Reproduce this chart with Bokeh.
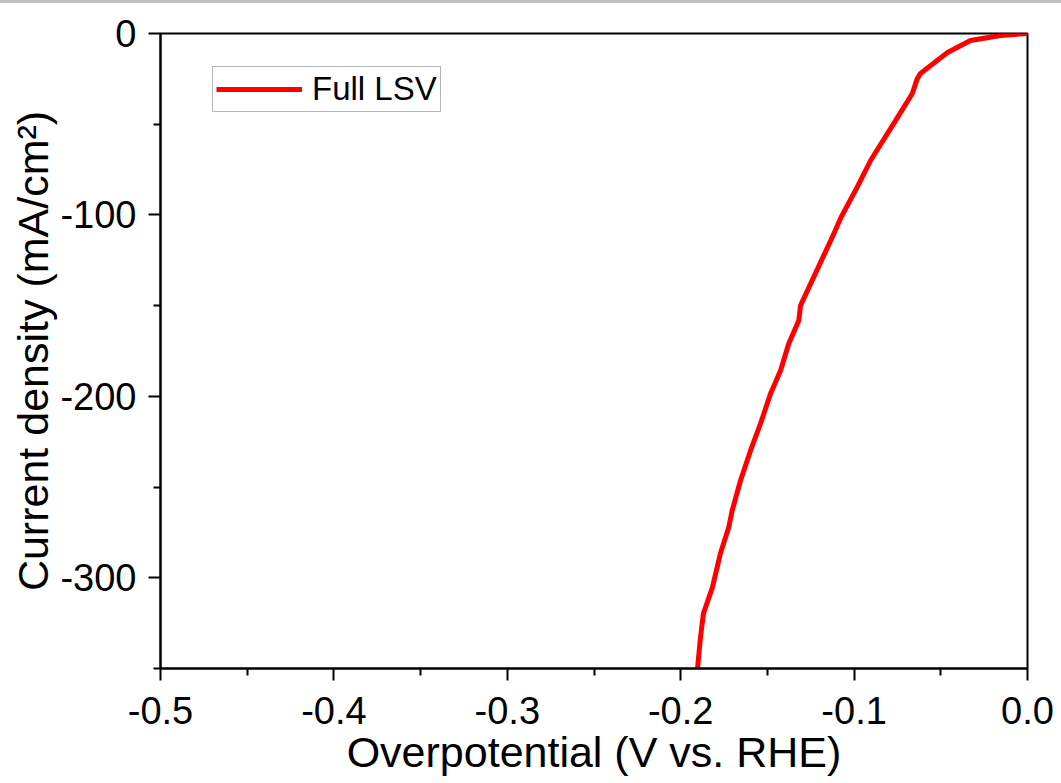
from bokeh.plotting import figure
from bokeh.models import (Range1d, FixedTicker, Legend, LegendItem, ColumnDataSource, Div)
from bokeh.layouts import column
from bokeh.embed import file_html
from bokeh.resources import INLINE

# Data (Overpotential in V vs. RHE, current density in mA/cm2)
overpotential = [0.0, -0.0156, -0.0329, -0.0461, -0.0521, -0.0617, -0.0636, -0.0665,
                 -0.0761, -0.0905, -0.0982, -0.1075, -0.1126, -0.1184, -0.1251, -0.1309,
                 -0.1319, -0.1377, -0.1424, -0.1482, -0.1540, -0.1597, -0.1655, -0.1703,
                 -0.1723, -0.1771, -0.1817, -0.1869, -0.1886, -0.1903]
current_density = [0.0, -1.1, -3.9, -10.5, -14.9, -22.0, -25.0, -33.2,
                   -48.0, -70.0, -84.7, -101.3, -112.3, -124.2, -138.0, -149.9,
                   -158.2, -171.0, -185.7, -198.6, -215.1, -229.8, -246.4, -262.9,
                   -272.1, -286.6, -305.3, -319.7, -332.9, -350.0]

x_major = [-0.5, -0.4, -0.3, -0.2, -0.1, 0.0]
x_minor = [-0.45, -0.35, -0.25, -0.15, -0.05]
x_labels = {-0.5: "-0.5", -0.4: "-0.4", -0.3: "-0.3", -0.2: "-0.2", -0.1: "-0.1", 0.0: "0.0"}
y_major = [-300, -200, -100, 0]
y_minor = [-350, -250, -150, -50]
y_labels = {-300: "-300", -200: "-200", -100: "-100", 0: "0"}

FONT = "Liberation Sans"

p = figure(width=1061, height=780, output_backend="svg", toolbar_location=None,
           x_range=Range1d(-0.5, 0.0), y_range=Range1d(-350, 0),
           min_border_left=160, min_border_right=34, min_border_top=30, min_border_bottom=115)
p.background_fill_color = "white"
p.border_fill_color = "white"
p.outline_line_color = "black"
p.outline_line_width = 2
p.grid.visible = False

src = ColumnDataSource(dict(x=overpotential, y=current_density))
r = p.line("x", "y", source=src, line_color="#ff0000", line_width=5)

p.xaxis.ticker = FixedTicker(ticks=x_major, minor_ticks=x_minor)
p.xaxis.major_label_overrides = x_labels
p.yaxis.ticker = FixedTicker(ticks=y_major, minor_ticks=y_minor)
p.yaxis.major_label_overrides = y_labels

for ax in (p.xaxis[0], p.yaxis[0]):
    ax.axis_line_width = 2
    ax.axis_line_color = "black"
    ax.major_tick_line_width = 2
    ax.minor_tick_line_width = 2
    ax.major_tick_in = 0
    ax.major_tick_out = 12
    ax.minor_tick_in = 0
    ax.minor_tick_out = 7
    ax.major_label_text_font = FONT
    ax.major_label_text_font_size = "38px"
    ax.major_label_text_color = "black"
    ax.axis_label_text_font = FONT
    ax.axis_label_text_font_size = "43px"
    ax.axis_label_text_font_style = "normal"
    ax.axis_label_text_color = "black"

p.xaxis.axis_label = "Overpotential (V vs. RHE)"
p.xaxis.major_label_standoff = 16
p.xaxis.axis_label_standoff = 1
p.yaxis.axis_label = "Current density (mA/cm\u00b2)"
p.yaxis.major_label_standoff = 12
p.yaxis.axis_label_standoff = 0

legend = Legend(items=[LegendItem(label="Full LSV", renderers=[r])],
                location=(52, 556), orientation="vertical",
                label_text_font=FONT, label_text_font_size="33px",
                label_text_color="black",
                glyph_width=86, glyph_height=30, label_standoff=10,
                padding=3, spacing=0, margin=0,
                border_line_color="#6e6e6e", border_line_width=1,
                background_fill_alpha=1.0)
p.add_layout(legend)

band = Div(width=1061, height=3, styles={"background-color": "#c0c0c0"}, margin=0)
layout = column(band, p, spacing=0)

open("out.html", "w").write(file_html(layout, INLINE))
